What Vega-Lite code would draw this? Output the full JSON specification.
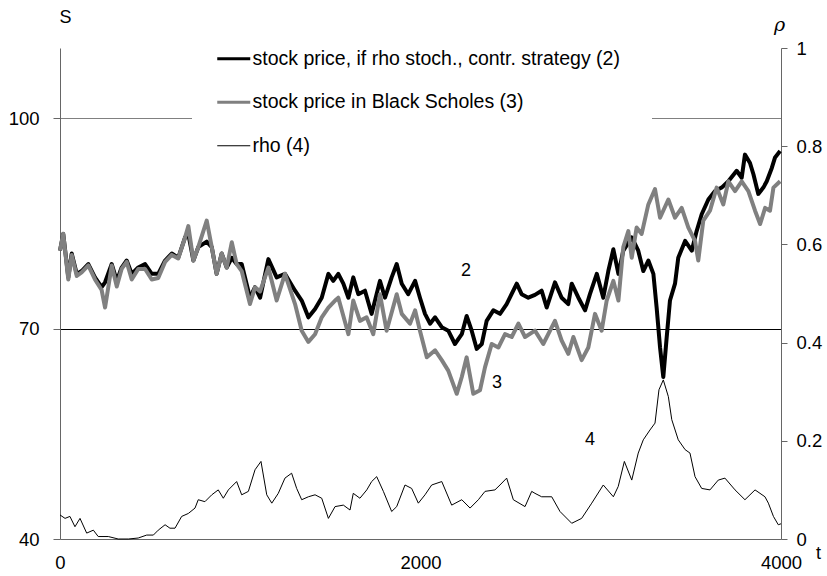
{
  "$schema": "https://vega.github.io/schema/vega-lite/v6.json",
  "width": 721,
  "height": 491,
  "autosize": "none",
  "padding": {"left": 60, "top": 48, "right": 46, "bottom": 37},
  "background": "white",
  "config": {
    "view": {"stroke": null},
    "font": "Liberation Sans",
    "axis": {"labelFont": "Liberation Sans", "labelFontSize": 18.5, "labelColor": "black", "domainColor": "#666666", "tickColor": "#666666", "titleFont": "Liberation Sans", "titleFontWeight": "normal", "titleFontSize": 18, "titleColor": "black"},
    "legend": {"orient": "none", "legendX": 132, "legendY": -31, "fillColor": "white", "padding": 32, "symbolType": "stroke", "symbolSize": 1089, "labelFont": "Liberation Sans", "labelFontSize": 19.5, "labelColor": "black", "labelOffset": 9, "rowPadding": 22.5, "labelLimit": 600}
  },
  "datasets": {
    "black": [
      {"t":0,"S":81.1},{"t":18,"S":83.5},{"t":46,"S":77.3},{"t":65,"S":80.7},{"t":93,"S":77.8},{"t":120,"S":78.2},{"t":157,"S":79.2},{"t":194,"S":77.3},{"t":231,"S":75.9},{"t":250,"S":76.6},{"t":287,"S":79.2},{"t":315,"S":76.8},{"t":342,"S":78.7},{"t":370,"S":79.7},{"t":398,"S":77.8},{"t":434,"S":78.7},{"t":472,"S":79.2},{"t":509,"S":77.8},{"t":545,"S":77.8},{"t":583,"S":79.7},{"t":620,"S":80.7},{"t":656,"S":80.1},{"t":694,"S":83.0},{"t":712,"S":83.5},{"t":740,"S":79.7},{"t":767,"S":81.6},{"t":814,"S":82.4},{"t":842,"S":81.6},{"t":869,"S":77.8},{"t":897,"S":80.7},{"t":925,"S":78.7},{"t":953,"S":80.1},{"t":980,"S":79.2},{"t":1008,"S":79.2},{"t":1054,"S":74.4},{"t":1082,"S":75.9},{"t":1110,"S":74.4},{"t":1156,"S":79.9},{"t":1202,"S":77.3},{"t":1248,"S":77.8},{"t":1304,"S":75.4},{"t":1341,"S":74.0},{"t":1378,"S":71.6},{"t":1415,"S":72.8},{"t":1452,"S":74.4},{"t":1489,"S":77.8},{"t":1516,"S":76.8},{"t":1544,"S":77.8},{"t":1572,"S":76.4},{"t":1600,"S":74.4},{"t":1627,"S":77.3},{"t":1655,"S":74.9},{"t":1692,"S":75.4},{"t":1729,"S":72.1},{"t":1775,"S":76.8},{"t":1803,"S":74.4},{"t":1840,"S":77.3},{"t":1868,"S":79.2},{"t":1896,"S":76.4},{"t":1932,"S":74.9},{"t":1970,"S":76.8},{"t":1997,"S":74.4},{"t":2025,"S":72.1},{"t":2053,"S":70.7},{"t":2081,"S":71.6},{"t":2118,"S":70.2},{"t":2154,"S":69.7},{"t":2191,"S":67.8},{"t":2229,"S":69.2},{"t":2256,"S":71.8},{"t":2284,"S":69.7},{"t":2312,"S":67.1},{"t":2340,"S":67.8},{"t":2367,"S":71.1},{"t":2404,"S":72.6},{"t":2441,"S":72.1},{"t":2478,"S":73.5},{"t":2534,"S":76.4},{"t":2561,"S":74.9},{"t":2598,"S":74.4},{"t":2635,"S":74.8},{"t":2672,"S":75.4},{"t":2700,"S":73.0},{"t":2746,"S":76.6},{"t":2783,"S":74.4},{"t":2820,"S":73.5},{"t":2839,"S":76.4},{"t":2876,"S":74.4},{"t":2913,"S":72.6},{"t":2940,"S":74.9},{"t":2978,"S":77.8},{"t":3014,"S":74.4},{"t":3042,"S":78.2},{"t":3070,"S":81.3},{"t":3098,"S":77.8},{"t":3125,"S":81.1},{"t":3172,"S":83.0},{"t":3208,"S":81.1},{"t":3236,"S":78.2},{"t":3264,"S":79.7},{"t":3292,"S":77.8},{"t":3310,"S":73.0},{"t":3329,"S":67.3},{"t":3347,"S":63.1},{"t":3366,"S":68.8},{"t":3384,"S":74.0},{"t":3412,"S":76.4},{"t":3430,"S":80.1},{"t":3468,"S":82.5},{"t":3505,"S":81.1},{"t":3532,"S":83.9},{"t":3560,"S":86.3},{"t":3597,"S":88.4},{"t":3634,"S":89.6},{"t":3671,"S":90.1},{"t":3708,"S":91.0},{"t":3754,"S":92.5},{"t":3782,"S":91.5},{"t":3800,"S":94.8},{"t":3828,"S":93.6},{"t":3847,"S":92.0},{"t":3874,"S":89.2},{"t":3902,"S":90.1},{"t":3921,"S":91.0},{"t":3949,"S":92.9},{"t":3967,"S":94.4},{"t":3995,"S":95.3}
    ],
    "gray": [
      {"t":0,"S":81.1},{"t":18,"S":83.5},{"t":46,"S":77.0},{"t":65,"S":80.5},{"t":93,"S":77.5},{"t":120,"S":78.0},{"t":157,"S":79.0},{"t":194,"S":77.0},{"t":231,"S":75.5},{"t":250,"S":73.0},{"t":287,"S":79.0},{"t":315,"S":76.0},{"t":342,"S":78.5},{"t":370,"S":79.5},{"t":398,"S":77.0},{"t":434,"S":78.5},{"t":472,"S":78.5},{"t":509,"S":77.0},{"t":545,"S":77.2},{"t":583,"S":79.5},{"t":620,"S":80.5},{"t":656,"S":80.0},{"t":694,"S":83.0},{"t":712,"S":84.6},{"t":740,"S":79.7},{"t":767,"S":81.6},{"t":814,"S":85.4},{"t":842,"S":81.6},{"t":869,"S":77.8},{"t":897,"S":80.7},{"t":925,"S":78.7},{"t":953,"S":82.3},{"t":980,"S":79.2},{"t":1008,"S":78.2},{"t":1054,"S":73.5},{"t":1082,"S":75.9},{"t":1110,"S":75.3},{"t":1156,"S":78.7},{"t":1202,"S":74.0},{"t":1248,"S":77.8},{"t":1304,"S":73.5},{"t":1341,"S":69.7},{"t":1378,"S":68.1},{"t":1415,"S":69.2},{"t":1452,"S":71.6},{"t":1489,"S":73.0},{"t":1526,"S":74.0},{"t":1544,"S":74.4},{"t":1600,"S":69.2},{"t":1627,"S":74.0},{"t":1664,"S":71.1},{"t":1701,"S":71.6},{"t":1738,"S":69.2},{"t":1775,"S":74.9},{"t":1812,"S":69.7},{"t":1868,"S":74.9},{"t":1896,"S":72.1},{"t":1942,"S":70.7},{"t":1970,"S":72.6},{"t":1997,"S":69.7},{"t":2035,"S":65.9},{"t":2081,"S":66.9},{"t":2118,"S":65.5},{"t":2154,"S":64.0},{"t":2201,"S":60.7},{"t":2229,"S":63.1},{"t":2256,"S":65.9},{"t":2293,"S":60.7},{"t":2330,"S":61.2},{"t":2358,"S":64.5},{"t":2395,"S":67.8},{"t":2432,"S":67.3},{"t":2469,"S":69.2},{"t":2506,"S":68.8},{"t":2543,"S":70.7},{"t":2580,"S":68.8},{"t":2635,"S":69.7},{"t":2681,"S":67.8},{"t":2746,"S":71.1},{"t":2783,"S":68.3},{"t":2820,"S":66.4},{"t":2848,"S":68.8},{"t":2894,"S":65.5},{"t":2931,"S":67.3},{"t":2968,"S":72.1},{"t":3005,"S":69.7},{"t":3033,"S":74.0},{"t":3070,"S":76.8},{"t":3098,"S":74.0},{"t":3125,"S":81.6},{"t":3153,"S":83.9},{"t":3172,"S":80.1},{"t":3199,"S":84.4},{"t":3227,"S":83.5},{"t":3264,"S":87.7},{"t":3301,"S":89.9},{"t":3329,"S":85.8},{"t":3375,"S":88.4},{"t":3412,"S":85.8},{"t":3449,"S":87.2},{"t":3486,"S":84.4},{"t":3523,"S":82.5},{"t":3541,"S":79.7},{"t":3569,"S":85.4},{"t":3606,"S":86.8},{"t":3643,"S":90.1},{"t":3680,"S":87.7},{"t":3708,"S":91.0},{"t":3745,"S":89.6},{"t":3782,"S":91.0},{"t":3819,"S":89.6},{"t":3856,"S":86.8},{"t":3884,"S":84.9},{"t":3912,"S":87.2},{"t":3939,"S":86.8},{"t":3958,"S":90.1},{"t":3995,"S":91.0}
    ],
    "rho": [
      {"t":0,"rho":0.049},{"t":28,"rho":0.042},{"t":55,"rho":0.046},{"t":83,"rho":0.025},{"t":111,"rho":0.042},{"t":148,"rho":0.012},{"t":185,"rho":0.018},{"t":212,"rho":0.005},{"t":268,"rho":0.005},{"t":323,"rho":0.0},{"t":379,"rho":0.0},{"t":434,"rho":0.002},{"t":481,"rho":0.008},{"t":518,"rho":0.008},{"t":545,"rho":0.018},{"t":583,"rho":0.029},{"t":610,"rho":0.022},{"t":638,"rho":0.022},{"t":675,"rho":0.046},{"t":712,"rho":0.052},{"t":749,"rho":0.063},{"t":767,"rho":0.080},{"t":804,"rho":0.076},{"t":842,"rho":0.090},{"t":878,"rho":0.100},{"t":906,"rho":0.083},{"t":934,"rho":0.100},{"t":980,"rho":0.117},{"t":1008,"rho":0.090},{"t":1045,"rho":0.097},{"t":1082,"rho":0.141},{"t":1115,"rho":0.158},{"t":1147,"rho":0.090},{"t":1175,"rho":0.073},{"t":1211,"rho":0.093},{"t":1248,"rho":0.124},{"t":1285,"rho":0.134},{"t":1313,"rho":0.103},{"t":1341,"rho":0.080},{"t":1378,"rho":0.086},{"t":1415,"rho":0.090},{"t":1452,"rho":0.083},{"t":1489,"rho":0.042},{"t":1526,"rho":0.066},{"t":1572,"rho":0.069},{"t":1609,"rho":0.059},{"t":1627,"rho":0.093},{"t":1664,"rho":0.083},{"t":1702,"rho":0.100},{"t":1729,"rho":0.117},{"t":1757,"rho":0.127},{"t":1794,"rho":0.097},{"t":1840,"rho":0.056},{"t":1868,"rho":0.066},{"t":1914,"rho":0.110},{"t":1951,"rho":0.103},{"t":1988,"rho":0.073},{"t":2025,"rho":0.090},{"t":2062,"rho":0.110},{"t":2118,"rho":0.117},{"t":2173,"rho":0.069},{"t":2229,"rho":0.080},{"t":2275,"rho":0.063},{"t":2321,"rho":0.080},{"t":2358,"rho":0.097},{"t":2413,"rho":0.100},{"t":2441,"rho":0.110},{"t":2478,"rho":0.124},{"t":2515,"rho":0.080},{"t":2580,"rho":0.066},{"t":2617,"rho":0.097},{"t":2635,"rho":0.093},{"t":2672,"rho":0.086},{"t":2728,"rho":0.086},{"t":2774,"rho":0.056},{"t":2839,"rho":0.032},{"t":2894,"rho":0.042},{"t":2950,"rho":0.073},{"t":3014,"rho":0.110},{"t":3070,"rho":0.086},{"t":3097,"rho":0.107},{"t":3131,"rho":0.158},{"t":3172,"rho":0.120},{"t":3208,"rho":0.175},{"t":3236,"rho":0.202},{"t":3273,"rho":0.222},{"t":3301,"rho":0.236},{"t":3323,"rho":0.304},{"t":3347,"rho":0.324},{"t":3375,"rho":0.290},{"t":3394,"rho":0.243},{"t":3430,"rho":0.202},{"t":3468,"rho":0.182},{"t":3495,"rho":0.175},{"t":3523,"rho":0.127},{"t":3560,"rho":0.103},{"t":3606,"rho":0.100},{"t":3652,"rho":0.120},{"t":3689,"rho":0.124},{"t":3745,"rho":0.100},{"t":3800,"rho":0.080},{"t":3856,"rho":0.100},{"t":3911,"rho":0.086},{"t":3930,"rho":0.073},{"t":3958,"rho":0.046},{"t":3985,"rho":0.029},{"t":4000,"rho":0.031}
    ],
    "labels": [
      {"t":2252,"S":78.2,"text":"2"},{"t":2424,"S":62.2,"text":"3"},{"t":2940,"S":54.1,"text":"4"}
    ]
  },
  "layer": [
    {
      "layer": [
        {
          "data": {"name": "black"},
          "mark": {"type": "line", "strokeJoin": "round", "strokeWidth": 4},
          "encoding": {
            "x": {"field": "t", "type": "quantitative", "scale": {"domain": [0, 4000], "nice": false}, "axis": {"values": [0, 2000, 4000], "format": "d", "labelFlush": false, "ticks": false, "tickSize": 0, "grid": false, "labelPadding": 14, "title": "t", "titleAngle": 0, "titleX": 758, "titleY": 14, "titleAlign": "center", "titleBaseline": "middle"}},
            "y": {"field": "S", "type": "quantitative", "scale": {"domain": [40, 110], "nice": false, "zero": false}, "axis": {"values": [40, 70, 100], "tickSize": 7, "labelPadding": 14, "grid": true, "gridColor": {"condition": {"test": "datum.value == 70", "value": "black"}, "value": "#808080"}, "gridOpacity": {"condition": {"test": "datum.value == 40", "value": 0}, "value": 1}, "title": "S", "titleAngle": 0, "titleX": 5, "titleY": -31, "titleAlign": "center", "titleBaseline": "middle"}},
            "color": {"datum": "stock price, if rho stoch., contr. strategy (2)", "scale": {"domain": ["stock price, if rho stoch., contr. strategy (2)", "stock price in Black Scholes (3)", "rho (4)"], "range": ["black", "#808080", "black"]}, "legend": {"title": null, "symbolStrokeWidth": 3, "encode": {"symbols": {"update": {"strokeWidth": {"signal": "datum.value === 'rho (4)' ? 1 : 3"}}}}}}
          }
        },
        {
          "data": {"name": "gray"},
          "mark": {"type": "line", "strokeJoin": "round", "strokeWidth": 4},
          "encoding": {
            "x": {"field": "t", "type": "quantitative"},
            "y": {"field": "S", "type": "quantitative"},
            "color": {"datum": "stock price in Black Scholes (3)"}
          }
        },
        {
          "data": {"name": "labels"},
          "mark": {"type": "text", "fontSize": 18, "font": "Liberation Sans", "color": "black"},
          "encoding": {
            "x": {"field": "t", "type": "quantitative"},
            "y": {"field": "S", "type": "quantitative"},
            "text": {"field": "text", "type": "nominal"}
          }
        }
      ]
    },
    {
      "data": {"name": "rho"},
      "mark": {"type": "line", "strokeJoin": "round", "strokeWidth": 1},
      "encoding": {
        "x": {"field": "t", "type": "quantitative"},
        "y": {"field": "rho", "type": "quantitative", "scale": {"domain": [0, 1], "nice": false}, "axis": {"orient": "right", "values": [0, 0.2, 0.4, 0.6, 0.8, 1], "format": "~g", "tickSize": 6, "labelPadding": 9, "grid": false, "title": "ρ", "titleFont": "DejaVu Serif", "titleFontStyle": "italic", "titleFontSize": 19, "titleAngle": 0, "titleX": -2, "titleY": -24, "titleAlign": "center", "titleBaseline": "middle"}},
        "color": {"datum": "rho (4)"}
      }
    }
  ],
  "resolve": {"scale": {"y": "independent"}}
}
